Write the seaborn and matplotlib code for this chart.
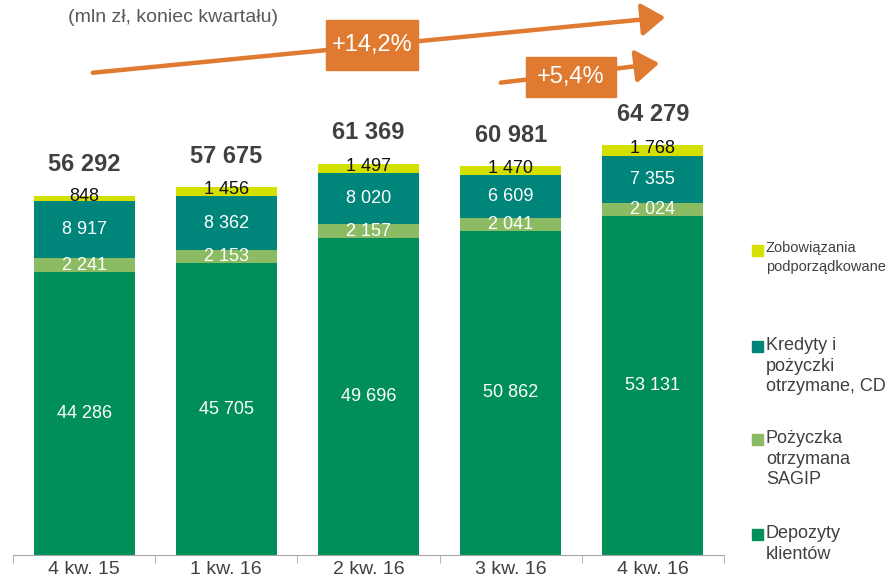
import matplotlib
matplotlib.use("Agg")
import matplotlib.pyplot as plt
import seaborn as sns
import pandas as pd
from matplotlib.patches import FancyArrowPatch, Rectangle

quarters = ["4 kw. 15", "1 kw. 16", "2 kw. 16", "3 kw. 16", "4 kw. 16"]
depozyty = [44286, 45705, 49696, 50862, 53131]
sagip = [2241, 2153, 2157, 2041, 2024]
kredyty = [8917, 8362, 8020, 6609, 7355]
zobowiazania = [848, 1456, 1497, 1470, 1768]
totals = [56292, 57675, 61369, 60981, 64279]

series_names = ["Depozyty\nklientów", "Pożyczka\notrzymana\nSAGIP",
                "Kredyty i\npożyczki\notrzymane, CD", "Zobowiązania\npodporządkowane"]
colors = ["#008F58", "#8BBB62", "#00857A", "#D3E000"]

FONT = ["Liberation Sans", "DejaVu Sans"]

W, H = 895, 579


def fx(px):
    return px / W


def fy(py):
    return 1 - py / H


def fmt(v):
    return f"{v:,}".replace(",", " ")


def main():
    plt.rcParams["font.family"] = FONT
    layers = [depozyty, sagip, kredyty, zobowiazania]
    cum = []
    run = [0] * len(quarters)
    for vals in layers:
        run = [a + b for a, b in zip(run, vals)]
        cum.append(run)

    fig = plt.figure(figsize=(W / 100, H / 100), dpi=100)
    ax = fig.add_axes([fx(13), 24 / H, fx(724) - fx(13), 555 / H])

    # stacked bars drawn as overlapping cumulative bars, top layer first
    for k in range(len(layers) - 1, -1, -1):
        df = pd.DataFrame({"q": quarters, "v": cum[k]})
        sns.barplot(data=df, x="q", y="v", color=colors[k], width=0.71,
                    saturation=1, ax=ax, order=quarters)

    ax.set_xlim(-0.5, len(quarters) - 0.5)
    ax.set_ylim(0, 87000)

    for i in range(len(quarters)):
        bottom = 0
        for k, vals in enumerate(layers):
            v = vals[i]
            y = bottom + v / 2
            if k == 3:
                ax.text(i, y + 300, fmt(v), ha="center", va="center",
                        fontsize=13, color="#111111")
            else:
                ax.text(i, y, fmt(v), ha="center", va="center",
                        fontsize=13, color="white")
            bottom += v
        ax.annotate(fmt(totals[i]), (i, cum[-1][i]), xytext=(0, 14),
                    textcoords="offset points", ha="center", va="bottom",
                    fontsize=17, fontweight="bold", color="#404040")

    for s in ["top", "right", "left"]:
        ax.spines[s].set_visible(False)
    ax.spines["bottom"].set_color("#A6A6A6")
    ax.set_yticks([])
    ax.set_xlabel("")
    ax.set_ylabel("")
    ax.set_xticks(range(len(quarters)))
    ax.set_xticklabels(quarters, fontsize=14, color="#404040")
    ax.tick_params(axis="x", which="major", length=0, pad=4)
    ax.set_xticks([i - 0.5 for i in range(len(quarters) + 1)], minor=True)
    ax.tick_params(axis="x", which="minor", length=6, color="#A6A6A6")

    # title
    fig.text(fx(68), fy(18), "(mln zł, koniec kwartału)", fontsize=14,
             color="#595959", ha="left", va="center")

    # growth arrows
    orange = "#DF7A30"
    for (x0, y0, x1, y1) in [(90, 73, 668, 17), (498, 83, 662, 63)]:
        arr = FancyArrowPatch((fx(x0), fy(y0)), (fx(x1), fy(y1)),
                              transform=fig.transFigure,
                              arrowstyle="-|>,head_length=6.5,head_width=4.5",
                              color=orange, lw=3.2, mutation_scale=2.2)
        fig.add_artist(arr)
    for (x0, y0, x1, y1, txt) in [(326, 20, 418, 70, "+14,2%"),
                                  (526, 57, 616, 97, "+5,4%")]:
        fig.add_artist(Rectangle((fx(x0), fy(y1)), fx(x1) - fx(x0),
                                 fy(y0) - fy(y1), transform=fig.transFigure,
                                 color=orange, zorder=5))
        fig.text(fx((x0 + x1) / 2), fy((y0 + y1) / 2), txt, fontsize=17,
                 color="white", ha="center", va="center", zorder=6)

    # legend
    legend_rows = [(3, 250, 10.5), (2, 346, 13), (1, 439, 13), (0, 534, 13)]
    for k, ytop, size in legend_rows:
        fig.add_artist(Rectangle((fx(752), fy(ytop + 6)), fx(11), 11 / H,
                                 transform=fig.transFigure, color=colors[k]))
        fig.text(fx(766), fy(ytop - 9), series_names[k], fontsize=size,
                 color="#404040", ha="left", va="top",
                 linespacing=1.5 if size < 12 else 1.28)

    fig.savefig("out.png", dpi=100)
    plt.close(fig)


if __name__ == "__main__":
    main()
